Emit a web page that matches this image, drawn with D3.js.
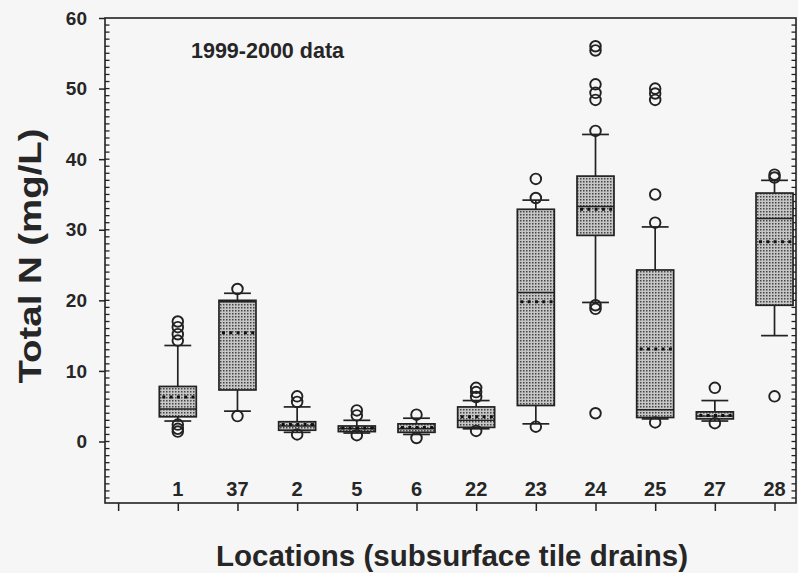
<!DOCTYPE html>
<html>
<head>
<meta charset="utf-8">
<script src="https://cdn.jsdelivr.net/npm/d3@7"></script>
<style>
  html, body { margin: 0; padding: 0; background: #f6f6f6; }
  svg { display: block; }
  text { font-family: "Liberation Sans", Arial, sans-serif; fill: #262626; }
</style>
</head>
<body>
<svg id="chart" width="798" height="573"></svg>
<script>
// ---- Data ----
const locations   = ["1", "37", "2", "5", "6", "22", "23", "24", "25", "27", "28"];
const q1          = [3.5, 7.3, 1.6, 1.4, 1.3, 2.0, 5.1, 29.2, 3.4, 3.2, 19.3];
const q3          = [7.8, 20.0, 2.8, 2.2, 2.5, 4.9, 32.9, 37.6, 24.3, 4.2, 35.2];
const medians     = [4.6, 19.8, 2.2, 1.8, 1.8, 3.0, 21.1, 33.3, 4.5, 3.6, 31.6];
const means       = [6.3, 15.4, 2.4, 1.9, 2.0, 3.5, 19.8, 32.9, 13.1, 3.7, 28.3];
const whiskerLow  = [2.9, 4.3, 1.3, 1.2, 1.0, 1.8, 2.5, 19.7, 3.2, 2.9, 15.0];
const whiskerHigh = [13.6, 21.0, 4.9, 3.0, 3.3, 5.8, 34.2, 43.5, 30.4, 5.8, 37.0];
const outliers    = [
  [14.3, 15.2, 16.2, 17.0, 2.4, 1.8, 1.4],
  [21.6, 3.6],
  [5.6, 6.4, 1.0],
  [3.7, 4.4, 0.9],
  [3.8, 0.5],
  [6.3, 7.0, 7.6, 1.5],
  [34.5, 37.2, 2.1],
  [44.0, 48.4, 49.4, 50.6, 55.4, 56.0, 19.3, 18.8, 4.0],
  [31.0, 35.0, 48.4, 49.3, 50.0, 2.7],
  [7.6, 2.6],
  [37.4, 37.8, 6.4]
];
const yTicks = [0, 10, 20, 30, 40, 50, 60];
const titleText = "1999-2000 data";
const xTitle = "Locations (subsurface tile drains)";
const yTitle = "Total N (mg/L)";

// ---- Layout ----
const svg = d3.select("#chart");
const pLeft = 105, pRight = 796, pTop = 18, pBottom = 503;

const x = d3.scaleLinear().domain([-0.22, 11.36]).range([pLeft, pRight]);
const y = d3.scaleLinear().domain([0, 60]).range([441.5, pTop]);
const yMin = y.invert(pBottom);

const boxW = x(0.62) - x(0);
const capW = x(0.45) - x(0);
const ink = "#222";

// pattern for stippled boxes
const defs = svg.append("defs");
const pat = defs.append("pattern").attr("id", "stip")
  .attr("width", 3).attr("height", 3).attr("patternUnits", "userSpaceOnUse");
pat.append("rect").attr("width", 3).attr("height", 3).attr("fill", "#c6c6c6");
pat.append("rect").attr("x", 1).attr("y", 1).attr("width", 1.5).attr("height", 1.5).attr("fill", "#444");

// ---- Frame ----
svg.append("rect").attr("x", pLeft).attr("y", pTop)
  .attr("width", pRight - pLeft).attr("height", pBottom - pTop)
  .attr("fill", "none").attr("stroke", ink).attr("stroke-width", 1.6);

// minor ticks on left (inward) and right (inward)
const minor = d3.range(Math.ceil(yMin), 60, 1);
svg.append("g").selectAll("line").data(minor).join("line")
  .attr("x1", pLeft).attr("x2", pLeft + 4.5)
  .attr("y1", d => y(d)).attr("y2", d => y(d))
  .attr("stroke", ink).attr("stroke-width", 1.3);
svg.append("g").selectAll("line").data(minor).join("line")
  .attr("x1", pRight).attr("x2", pRight - 4.5)
  .attr("y1", d => y(d)).attr("y2", d => y(d))
  .attr("stroke", ink).attr("stroke-width", 1.3);

// left axis with major ticks (outward)
const yAxis = d3.axisLeft(y).tickValues(yTicks).tickSize(6).tickPadding(12).tickFormat(d3.format("d"));
const gy = svg.append("g").attr("transform", `translate(${pLeft},0)`).call(yAxis);
gy.select(".domain").remove();
gy.selectAll(".tick line").attr("stroke", ink).attr("stroke-width", 1.5);
gy.selectAll(".tick text").attr("font-size", 19).attr("font-weight", "bold")
  .attr("font-family", "Liberation Sans, Arial, sans-serif").attr("fill", "#262626");

// bottom axis ticks (outward), labels drawn inside the plot
const xAxis = d3.axisBottom(x).tickValues(d3.range(0, 12)).tickSize(8).tickFormat("");
const gx = svg.append("g").attr("transform", `translate(0,${pBottom})`).call(xAxis);
gx.select(".domain").remove();
gx.selectAll(".tick line").attr("stroke", ink).attr("stroke-width", 1.5);

svg.append("g").selectAll("text").data(locations).join("text")
  .attr("x", (d, i) => x(i + 1)).attr("y", 496)
  .attr("text-anchor", "middle").attr("font-size", 20).attr("font-weight", "bold")
  .text(d => d);

// ---- Boxes ----
const g = svg.append("g");
locations.forEach((loc, i) => {
  const cx = x(i + 1);
  // whiskers
  g.append("line").attr("x1", cx).attr("x2", cx)
    .attr("y1", y(q3[i])).attr("y2", y(whiskerHigh[i])).attr("stroke", ink).attr("stroke-width", 1.7);
  g.append("line").attr("x1", cx).attr("x2", cx)
    .attr("y1", y(q1[i])).attr("y2", y(whiskerLow[i])).attr("stroke", ink).attr("stroke-width", 1.7);
  g.append("line").attr("x1", cx - capW / 2).attr("x2", cx + capW / 2)
    .attr("y1", y(whiskerHigh[i])).attr("y2", y(whiskerHigh[i])).attr("stroke", ink).attr("stroke-width", 1.7);
  g.append("line").attr("x1", cx - capW / 2).attr("x2", cx + capW / 2)
    .attr("y1", y(whiskerLow[i])).attr("y2", y(whiskerLow[i])).attr("stroke", ink).attr("stroke-width", 1.7);
  // box
  g.append("rect").attr("x", cx - boxW / 2).attr("y", y(q3[i]))
    .attr("width", boxW).attr("height", y(q1[i]) - y(q3[i]))
    .attr("fill", "url(#stip)").attr("stroke", ink).attr("stroke-width", 1.7);
  // median
  g.append("line").attr("x1", cx - boxW / 2).attr("x2", cx + boxW / 2)
    .attr("y1", y(medians[i])).attr("y2", y(medians[i])).attr("stroke", ink).attr("stroke-width", 1.4);
  // mean (dotted)
  g.append("line").attr("x1", cx - boxW / 2 + 3).attr("x2", cx + boxW / 2)
    .attr("y1", y(means[i])).attr("y2", y(means[i])).attr("stroke", "#111")
    .attr("stroke-width", 3).attr("stroke-dasharray", "3,4.3");
  // outliers
  g.selectAll(null).data(outliers[i]).join("circle")
    .attr("cx", cx).attr("cy", d => y(d)).attr("r", 5.3)
    .attr("fill", "none").attr("stroke", ink).attr("stroke-width", 1.9);
});

// ---- Texts ----
svg.append("text").attr("x", 191).attr("y", 58)
  .attr("font-size", 21.5).attr("font-weight", "bold").text(titleText);

svg.append("text").attr("x", 452).attr("y", 566)
  .attr("text-anchor", "middle").attr("font-size", 29.5).attr("font-weight", "bold")
  .text(xTitle);

svg.append("text").attr("transform", "translate(41,256) rotate(-90)")
  .attr("text-anchor", "middle").attr("font-size", 32).attr("font-weight", "bold")
  .attr("textLength", 255).attr("lengthAdjust", "spacingAndGlyphs")
  .text(yTitle);
</script>
</body>
</html>
